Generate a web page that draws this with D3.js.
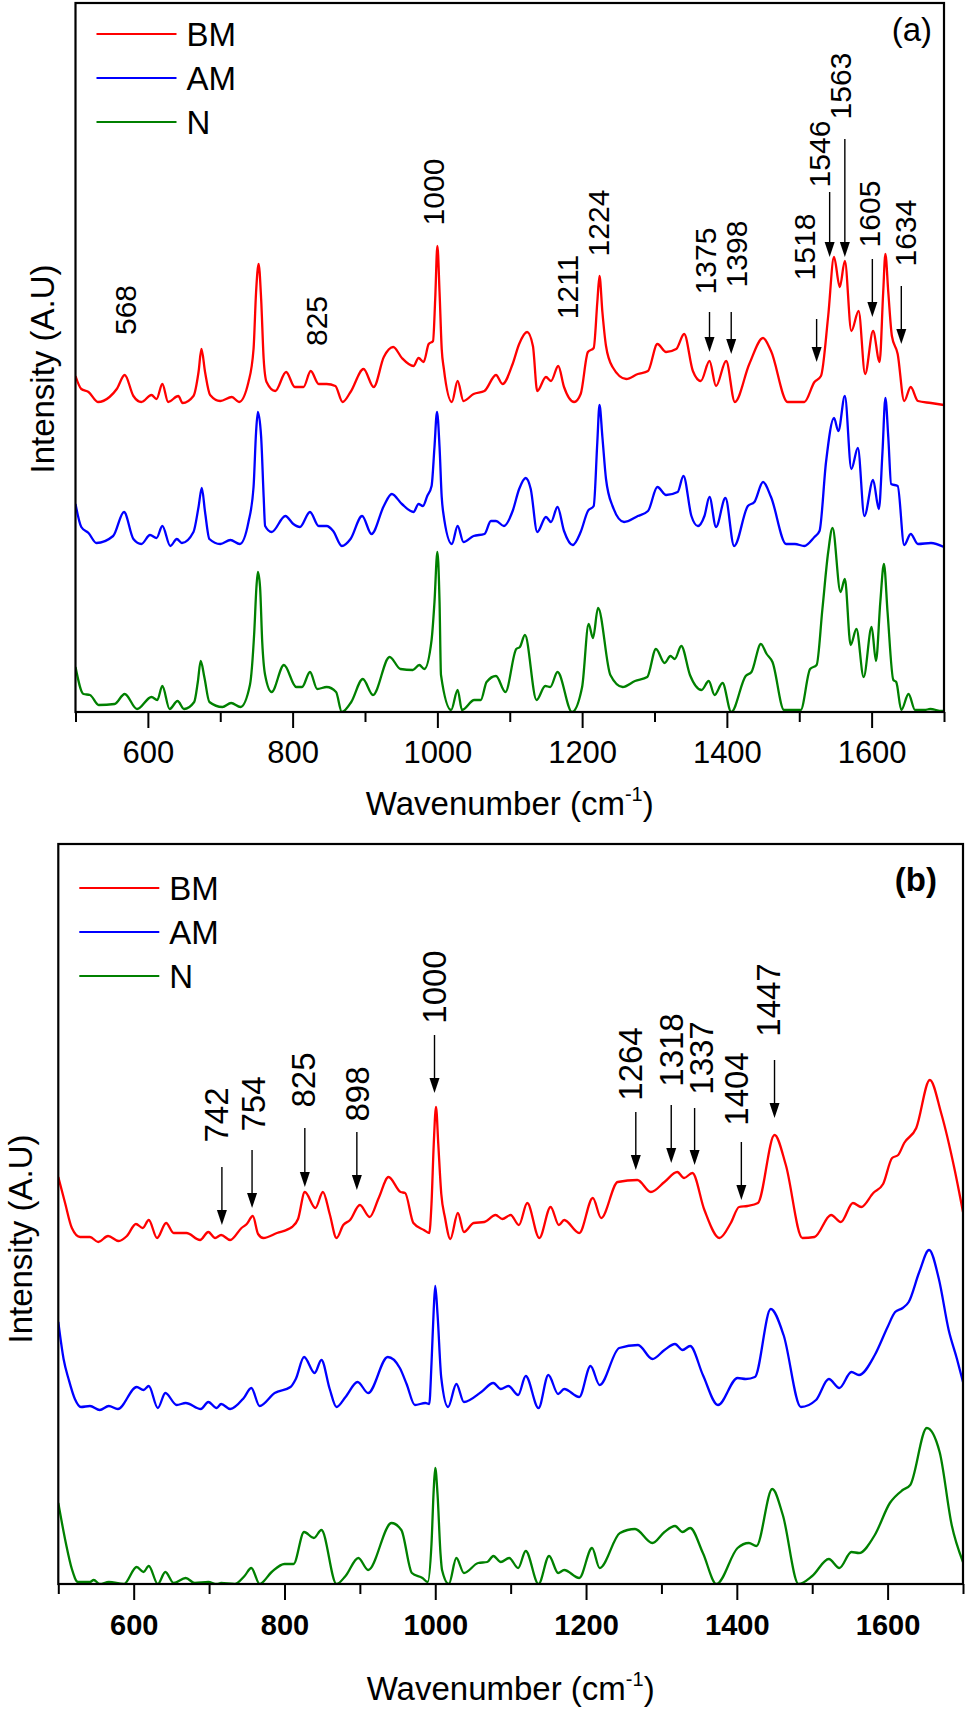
<!DOCTYPE html>
<html><head><meta charset="utf-8">
<script src="https://cdn.jsdelivr.net/npm/d3@7"></script>
<style>body{margin:0;background:#fff} svg{display:block}</style>
</head><body><svg id="c" width="968" height="1709"></svg>
<script>
// ---------- DATA (wavenumber cm-1, intensity A.U., stacked traces) ----------
const seriesNames = ['BM','AM','N'];
const majorTicks = [600,800,1000,1200,1400,1600];
const minorTicks = [500,700,900,1100,1300,1500,1700];

const aBM = [[500,336],[508,323],[518,320],[531,310],[547,315],[557,323],[568,337],[580,316],[591,310],[605,317],[612,313],[620,328],[628,310],[642,316],[648,309],[663,316],[670,340],[674,363],[679,340],[686,317],[700,311],[716,315],[726,310],[739,330],[746,363],[749.5,420],[753,448],[756.5,413],[760,353],[764,330],[776,321],[791,340],[803,325],[815,325],[825,341],[836,328],[847,328],[859,326],[869,310],[880,320],[898,343],[912,325],[926,355],[939,365],[951,354],[967,346],[974,354],[981,350],[988,368],[994,371],[997,413],[1000,466],[1003,420],[1006,363],[1009,343],[1020,310],[1028,331],[1036,311],[1050,318],[1065,321],[1081,337],[1090,328],[1104,348],[1113,368],[1124,380],[1132,366],[1138,321],[1150,335],[1157,331],[1167,346],[1175,325],[1189,310],[1198,318],[1208,360],[1216,364],[1221,410],[1224,436],[1228,400],[1233,366],[1242,345],[1261,333],[1277,338],[1291,341],[1304,368],[1316,360],[1330,363],[1341,378],[1353,341],[1364,331],[1376,351],[1385,326],[1399,351],[1411,310],[1431,348],[1450,374],[1461,361],[1484,310],[1507,310],[1521,330],[1530,336],[1540,396],[1548,455],[1556,425],[1563,451],[1572,381],[1582,401],[1591,338],[1602,381],[1611,350],[1616,420],[1619,458],[1623,420],[1628,376],[1636,358],[1645,311],[1654,325],[1664,311],[1682,309],[1700,307]];

const aAM = [[500,208],[508,185],[518,179],[529,169],[552,176],[567,200],[580,173],[591,168],[603,177],[612,174],[620,186],[631,166],[640,173],[647,169],[663,180],[670,205],[674.5,224],[679,200],[685,173],[700,168],[714,172],[727,168],[739,190],[746,225],[749.5,280],[752,300],[756.5,275],[760,215],[762,186],[771,180],[790,196],[801,188],[810,185],[824,200],[836,186],[847,186],[856,181],[868,166],[880,173],[896,196],[909,178],[926,206],[937,218],[951,208],[967,200],[974,208],[980,206],[986,216],[992,226],[996,265],[999.5,300],[1003,265],[1006,215],[1008,200],[1020,168],[1028,186],[1036,170],[1050,176],[1065,178],[1074,191],[1081,191],[1092,186],[1104,201],[1113,223],[1122,234],[1129,223],[1138,180],[1150,195],[1157,190],[1166,205],[1175,181],[1187,167],[1198,180],[1208,201],[1216,206],[1221,270],[1224,307],[1228,275],[1233,233],[1242,206],[1258,190],[1277,196],[1291,201],[1304,225],[1316,217],[1332,220],[1340,236],[1351,196],[1360,186],[1369,196],[1376,215],[1385,185],[1398,214],[1410,166],[1429,206],[1438,210],[1450,230],[1461,215],[1482,168],[1494,168],[1507,166],[1521,175],[1528,181],[1537,250],[1548,294],[1554,281],[1563,316],[1572,243],[1581,264],[1590,196],[1602,232],[1610,203],[1615,260],[1619,314],[1623,275],[1627,228],[1636,226],[1645,167],[1654,178],[1664,168],[1682,169],[1700,165]];

const aN = [[500,45],[511,18],[520,17],[532,7],[554,8],[568,18],[585,3],[605,15],[613,12],[620,26],[630,3],[641,11],[650,3],[664,10],[669,30],[673,51],[678,35],[685,10],[703,5],[715,9],[728,5],[741,27],[747,80],[750,125],[752,140],[755,125],[758,70],[762,37],[771,20],[788,47],[805,25],[813,25],[824,40],[834,23],[847,25],[860,20],[868,0],[881,10],[897,33],[911,17],[934,55],[949,43],[966,42],[975,47],[982,43],[992,72],[996,110],[1000,160],[1003,110],[1005,37],[1019,2],[1028,22],[1034,2],[1051,12],[1060,12],[1068,30],[1081,36],[1094,20],[1109,63],[1114,65],[1121,77],[1137,12],[1149,26],[1156,25],[1166,40],[1186,0],[1200,25],[1209,88],[1215,74],[1222,104],[1239,37],[1256,25],[1273,31],[1290,35],[1302,63],[1314,49],[1322,56],[1328,53],[1337,66],[1349,37],[1365,22],[1375,31],[1383,17],[1394,29],[1406,0],[1426,36],[1434,40],[1447,68],[1455,58],[1463,50],[1479,2],[1502,2],[1515,43],[1524,47],[1532,103],[1540,160],[1546,184],[1557,120],[1563,133],[1571,67],[1579,83],[1589,35],[1600,85],[1606,51],[1612,110],[1617,148],[1622,100],[1630,32],[1634,30],[1641,2],[1651,18],[1660,2],[1673,2],[1681,3],[1697,1],[1700,1]];

const bBM = [[500,407],[509,381],[518,356],[529,347],[542,347],[553,342],[566,348],[580,343],[591,348],[603,360],[612,356],[620,364],[631,346],[643,361],[653,351],[670,351],[688,344],[699,352],[708,346],[716,349],[728,344],[743,356],[750,360],[758,368],[765,350],[772,346],[790,351],[810,357],[818,365],[827,392],[841,376],[851,392],[860,370],[869,346],[878,359],[887,364],[900,379],[913,367],[925,386],[938,407],[954,392],[960,391],[971,361],[985,354],[992,351],[995,380],[998,440],[1001,477],[1004,440],[1008,390],[1013,366],[1020,345],[1030,371],[1038,352],[1051,361],[1065,362],[1080,369],[1089,365],[1100,369],[1111,359],[1122,381],[1138,346],[1153,377],[1164,359],[1171,364],[1191,351],[1209,386],[1220,366],[1242,402],[1268,404],[1286,392],[1304,402],[1321,412],[1330,406],[1341,411],[1357,374],[1377,346],[1392,361],[1403,377],[1414,378],[1428,381],[1450,449],[1465,419],[1487,346],[1503,347],[1525,369],[1538,362],[1554,381],[1565,377],[1581,391],[1594,400],[1606,426],[1614,429],[1622,441],[1638,456],[1656,504],[1671,471],[1689,414],[1700,372]];

const bAM = [[500,262],[507,225],[514,204],[522,185],[530,177],[542,178],[555,174],[567,178],[579,175],[604,197],[613,194],[620,198],[632,176],[642,191],[657,179],[669,181],[689,175],[699,182],[710,176],[716,180],[728,175],[746,186],[756,196],[767,178],[787,191],[808,197],[815,205],[826,227],[840,211],[849,224],[860,195],[869,177],[881,187],[897,202],[911,191],[937,227],[953,216],[962,200],[973,179],[987,181],[992,180],[995,220],[998,275],[1000,298],[1003,270],[1008,206],[1017,177],[1028,200],[1038,182],[1061,192],[1077,201],[1087,195],[1097,198],[1110,189],[1120,208],[1137,176],[1150,209],[1163,190],[1171,195],[1191,187],[1206,218],[1218,199],[1244,236],[1269,239],[1288,225],[1304,234],[1318,240],[1328,234],[1338,238],[1355,209],[1375,179],[1401,206],[1412,205],[1424,207],[1445,275],[1462,249],[1485,177],[1505,184],[1522,205],[1536,196],[1552,212],[1562,209],[1583,229],[1600,257],[1610,272],[1620,276],[1628,282],[1642,312],[1655,334],[1668,305],[1681,254],[1692,225],[1700,202]];

const bN = [[500,81],[510,41],[518,15],[526,2],[542,2],[547,4],[555,0],[567,2],[587,0],[604,17],[613,12],[620,18],[632,0],[642,12],[653,1],[669,6],[681,1],[699,2],[710,0],[716,1],[734,0],[747,8],[756,16],[767,0],[783,12],[800,20],[812,20],[826,52],[839,46],[849,54],[869,0],[881,8],[898,26],[911,14],[942,61],[955,54],[969,11],[983,6],[990,2],[995,40],[998,95],[1000,116],[1003,90],[1007,30],[1009,14],[1018,0],[1028,26],[1038,11],[1057,21],[1069,22],[1077,28],[1087,22],[1098,26],[1110,16],[1120,33],[1137,0],[1151,28],[1163,11],[1171,14],[1191,6],[1208,36],[1218,16],[1245,51],[1265,55],[1288,41],[1304,52],[1318,58],[1328,52],[1338,56],[1355,31],[1373,0],[1401,36],[1416,41],[1426,38],[1447,95],[1461,69],[1482,0],[1500,8],[1522,25],[1536,16],[1552,32],[1562,31],[1583,49],[1603,81],[1620,94],[1630,99],[1652,156],[1669,132],[1685,59],[1700,22]];

// peak annotations: [label, label wavenumber, label intensity, arrow wavenumber, arrow top, arrow tip]
const aPeaks = [["568",568,402],["825",832,391],["1000",994,520],["1211",1180,425],["1224",1222,489],
  ["1375",1370,451,1376,400,360],["1398",1413,458,1406,400,358],["1518",1507,465,1524,393,350],
  ["1546",1527,558,1542,520,455],["1563",1556,626,1563,573,455],["1605",1597,498,1601,453,395],
  ["1634",1646,479,1641,426,368]];
const bPeaks = [["742",709,469,717,417,359],["754",758,480,757,434,376],["825",825,504,827,456,397],
  ["898",896,490,896,452,394],["1000",999,597,999,549,491],["1264",1259,520,1266,472,414],
  ["1318",1313,534,1313,479,421],["1337",1353,526,1344,476,419],["1404",1399,495,1406,442,384],
  ["1447",1441,584,1450,524,466]];

// ---------- DRAWING ----------
const FONT = '"Liberation Sans", Arial, Helvetica, sans-serif';
const colors = ['#ff0000','#0000ff','#008000'];
const svg = d3.select('#c');
const defs = svg.append('defs');

function panel(o){
  const x = d3.scaleLinear().domain([500,1700]).range([o.left,o.right]);
  const y = d3.scaleLinear().domain([0,o.ymax]).range([o.bottom,o.top]);
  const g = svg.append('g');
  defs.append('clipPath').attr('id','clip'+o.id).append('rect')
    .attr('x',o.left).attr('y',o.top).attr('width',o.right-o.left).attr('height',o.bottom-o.top);
  const line = d3.line().x(d=>x(d[0])).y(d=>y(d[1])).curve(d3.curveMonotoneX);
  o.series.forEach((s,i)=>{
    g.append('path').attr('d',line(s)).attr('fill','none').attr('stroke',colors[i])
      .attr('stroke-width',2.3).attr('stroke-linejoin','round').attr('clip-path',`url(#clip${o.id})`);
  });
  // axes ticks
  const axMaj = d3.axisBottom(x).tickValues(majorTicks).tickSize(16).tickPadding(o.pad).tickFormat(d3.format('d'));
  const axMin = d3.axisBottom(x).tickValues(minorTicks).tickSize(10).tickFormat('');
  const ga = g.append('g').attr('transform',`translate(0,${o.bottom})`).call(axMaj);
  const gm = g.append('g').attr('transform',`translate(0,${o.bottom})`).call(axMin);
  [ga,gm].forEach(a=>{ a.select('.domain').remove(); a.selectAll('line').attr('stroke','#000').attr('stroke-width',2); });
  ga.selectAll('text').attr('font-family',FONT).attr('font-size',o.tickFont).attr('font-weight',o.tickWeight).attr('fill','#000');
  // frame
  g.append('rect').attr('x',o.left).attr('y',o.top).attr('width',o.right-o.left).attr('height',o.bottom-o.top)
    .attr('fill','none').attr('stroke','#000').attr('stroke-width',2.2);
  // axis titles
  const xt = g.append('text').attr('x',(o.left+o.right)/2).attr('y',o.xTitleY).attr('text-anchor','middle')
    .attr('font-family',FONT).attr('font-size',33).attr('fill','#000');
  xt.append('tspan').text('Wavenumber (cm');
  xt.append('tspan').attr('font-size',20).attr('dy',-14).text('-1');
  xt.append('tspan').attr('dy',14).text(')');
  g.append('text').attr('transform',`translate(${o.yTitleX},${o.yTitleY}) rotate(-90)`).attr('text-anchor','middle')
    .attr('font-family',FONT).attr('font-size',33).attr('fill','#000').text('Intensity (A.U)');
  // legend
  seriesNames.forEach((n,i)=>{
    const ly = o.legendY + i*44;
    g.append('line').attr('x1',o.left+21).attr('x2',o.left+101).attr('y1',ly).attr('y2',ly)
      .attr('stroke',colors[i]).attr('stroke-width',2.2);
    g.append('text').attr('x',o.left+111).attr('y',ly).attr('dy','0.36em').attr('font-family',FONT)
      .attr('font-size',33).attr('fill','#000').text(n);
  });
  // panel tag
  g.append('text').attr('x',o.tagX).attr('y',o.tagY).attr('text-anchor','end').attr('font-family',FONT)
    .attr('font-size',33).attr('font-weight',o.tagWeight).attr('fill','#000').text(o.tag);
  // peak annotations
  o.peaks.forEach(p=>{
    g.append('text').attr('transform',`translate(${x(p[1])},${y(p[2])}) rotate(-90)`).attr('text-anchor','middle')
      .attr('dy','0.36em').attr('font-family',FONT).attr('font-size',o.annFont).attr('fill','#000').text(p[0]);
    if(p.length>3){
      const ax = x(p[3]), y0 = y(p[4]), y1 = y(p[5]);
      g.append('line').attr('x1',ax).attr('x2',ax).attr('y1',y0).attr('y2',y1-12).attr('stroke','#000').attr('stroke-width',1.4);
      g.append('path').attr('d',`M${ax-5},${y1-15}L${ax+5},${y1-15}L${ax},${y1}Z`).attr('fill','#000');
    }
  });
}

panel({id:'a', left:75.5, right:944, top:3, bottom:712, ymax:709, series:[aBM,aAM,aN],
  pad:13, tickFont:31, tickWeight:'normal', xTitleY:815, yTitleX:54, yTitleY:369,
  legendY:34, tag:'(a)', tagX:932, tagY:41, tagWeight:'normal', peaks:aPeaks, annFont:30});
panel({id:'b', left:58.3, right:963, top:844, bottom:1584, ymax:740, series:[bBM,bAM,bN],
  pad:14, tickFont:29, tickWeight:'bold', xTitleY:1700, yTitleX:32, yTitleY:1239,
  legendY:888, tag:'(b)', tagX:937, tagY:891, tagWeight:'bold', peaks:bPeaks, annFont:33});
</script></body></html>
